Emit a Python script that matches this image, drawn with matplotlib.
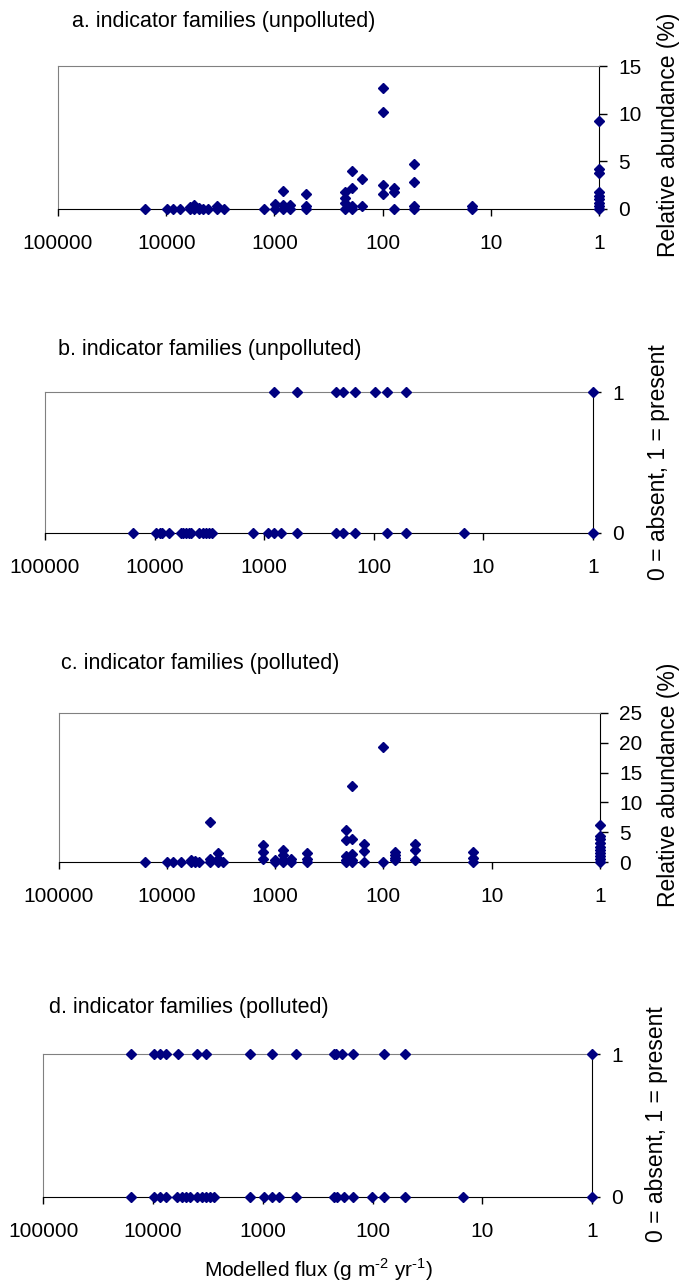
import numpy as np
import matplotlib
matplotlib.use("Agg")
import matplotlib.pyplot as plt
from matplotlib.ticker import FixedLocator, NullLocator

plt.rcParams['font.family'] = ['Liberation Sans', 'DejaVu Sans']
plt.rcParams['mathtext.fontset'] = 'custom'
plt.rcParams['mathtext.rm'] = 'Liberation Sans'

# <codecell>
# a. relative abundance, unpolluted (flux, %)
flux_a = [15800, 9900, 8700, 7400, 6000, 6000, 5500, 5500, 5000, 5000, 4600, 4100,
          3400, 3400, 2950, 1260, 990, 990, 830, 830, 830, 710, 710,
          515, 515, 515, 222, 222, 222, 222, 192, 192, 192, 192, 154, 154,
          100, 100, 100, 100, 78, 78, 78, 51, 51, 51, 51, 15, 15,
          1, 1, 1, 1, 1, 1, 1, 1, 1]
abund_a = [0, 0, 0, 0, 0, 0.2, 0.4, 0, 0.1, 0, 0, 0,
           0.3, 0, 0, 0, 0.5, 0, 1.9, 0.4, 0, 0.4, 0,
           1.6, 0.3, 0, 1.8, 1.2, 0.6, 0, 4.0, 2.2, 0.3, 0, 3.1, 0.3,
           12.7, 10.2, 2.5, 1.6, 2.2, 1.8, 0, 4.7, 2.8, 0.3, 0, 0.3, 0,
           9.2, 4.2, 3.8, 1.8, 1.4, 1.0, 0.6, 0.3, 0]

# b. presence / absence, unpolluted
present_b = [810, 500, 223, 191, 150, 98, 75, 51, 1]
absent_b = [15800, 9800, 9000, 8500, 7400, 5800, 5500, 5200, 4900, 4700,
            3900, 3600, 3400, 3200, 3000, 1260, 930, 810, 710, 500,
            223, 191, 150, 75, 51, 15, 1]

# c. relative abundance, polluted (flux, %)
flux_c = [15800, 9900, 8700, 7400, 6000, 6000, 5500, 5500, 5000,
          4000, 4000, 4000, 3400, 3400, 3400, 3000,
          1290, 1290, 1290, 1000, 1000, 850, 850, 850, 850, 710, 710,
          510, 510, 510, 220, 220, 220, 220, 220, 193, 193, 193, 193, 193,
          151, 151, 151, 100, 100, 78, 78, 78, 78, 51, 51, 51, 15, 15, 15,
          1, 1, 1, 1, 1, 1, 1, 1, 1, 1]
abund_c = [0, 0, 0, 0, 0.3, 0, 0.2, 0, 0,
           6.7, 0.5, 0, 1.5, 0.5, 0, 0,
           2.9, 1.6, 0.5, 0.4, 0, 2.0, 1.2, 0.4, 0, 0.5, 0,
           1.5, 0.5, 0, 5.3, 3.7, 1.0, 0.4, 0, 12.7, 3.8, 1.3, 0.3, 0,
           3.0, 1.8, 0, 19.3, 0, 1.7, 1.2, 0.6, 0.3, 3.1, 2.0, 0.3, 1.7, 0.6, 0,
           6.2, 4.3, 3.8, 3.2, 2.6, 2.0, 1.5, 1.0, 0.5, 0]

# d. presence / absence, polluted
present_d = [16000, 9900, 8700, 7600, 5900, 4000, 3300, 1320, 830, 500,
             225, 213, 190, 150, 79, 51, 1]
absent_d = [16000, 9900, 8700, 7600, 6000, 5500, 5000, 4600, 4000, 3600,
            3300, 3000, 2800, 1320, 980, 830, 710, 500, 225, 210, 183,
            150, 102, 79, 51, 15, 1]

xticks = [100000, 10000, 1000, 100, 10, 1]
xticklabels = ["100000", "10000", "1000", "100", "10", "1"]

W, H = 679, 1287
navy = '#000080'

fig = plt.figure(figsize=(W / 100, H / 100), dpi=100)


def make_ax(left, right, top, bottom):
    ax = fig.add_axes([left / W, 1 - bottom / H, (right - left) / W, (bottom - top) / H])
    ax.set_xscale('log')
    ax.set_xlim(100000, 1)
    ax.xaxis.set_major_locator(FixedLocator(xticks))
    ax.xaxis.set_minor_locator(NullLocator())
    ax.set_xticklabels(xticklabels)
    ax.yaxis.tick_right()
    for s in ['top', 'left']:
        ax.spines[s].set_color('#808080')
    for s in ['right', 'bottom']:
        ax.spines[s].set_color('black')
    ax.tick_params(axis='x', direction='out', length=5, width=1, pad=13, labelsize=15)
    ax.tick_params(axis='y', direction='out', length=6, width=1, pad=8, labelsize=15)
    return ax


def dots(ax, x, y):
    ax.plot(x, y, linestyle='none', marker='D', ms=5.2, color=navy, mec=navy,
            clip_on=False, zorder=3)


# a
ax = make_ax(58, 599, 66, 209)
dots(ax, flux_a, abund_a)
ax.set_ylim(0, 15)
ax.set_yticks([0, 5, 10, 15])

# b
ax = make_ax(45, 593, 392, 533)
dots(ax, present_b, np.ones(len(present_b)))
dots(ax, absent_b, np.zeros(len(absent_b)))
ax.set_ylim(0, 1)
ax.set_yticks([0, 1])

# c
ax = make_ax(58.5, 600, 713, 862)
dots(ax, flux_c, abund_c)
ax.set_ylim(0, 25)
ax.set_yticks([0, 5, 10, 15, 20, 25])

# d
ax = make_ax(43.3, 592, 1054, 1197)
dots(ax, present_d, np.ones(len(present_d)))
dots(ax, absent_d, np.zeros(len(absent_d)))
ax.set_ylim(0, 1)
ax.set_yticks([0, 1])


def ftext(x, y, s, **kw):
    fig.text(x / W, 1 - y / H, s, **kw)


ftext(72, 22, "a. indicator families (unpolluted)", fontsize=15.5, va='center')
ftext(58, 350, "b. indicator families (unpolluted)", fontsize=15.5, va='center')
ftext(61, 663, "c. indicator families (polluted)", fontsize=15.5, va='center')
ftext(49, 1007, "d. indicator families (polluted)", fontsize=15.5, va='center')

ftext(668, 135, "Relative abundance (%)", fontsize=16.5, rotation=90, ha='center', va='center')
ftext(658, 462, "0 = absent, 1 = present", fontsize=16.5, rotation=90, ha='center', va='center')
ftext(669, 785, "Relative abundance (%)", fontsize=16.5, rotation=90, ha='center', va='center')
ftext(656, 1124, "0 = absent, 1 = present", fontsize=16.5, rotation=90, ha='center', va='center')

ftext(318, 1270, r"Modelled flux (g m$^{\text{-2}}$ yr$^{\text{-1}}$)", fontsize=15, ha='center', va='center')

fig.savefig("out.png", dpi=100)
